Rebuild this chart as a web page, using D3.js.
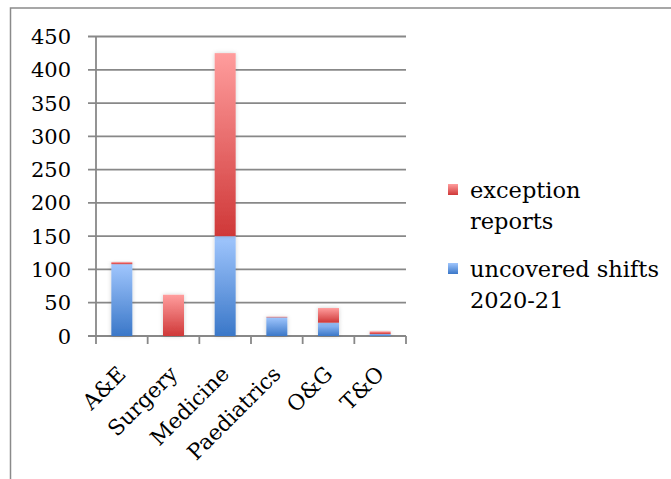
<!DOCTYPE html>
<html>
<head>
<meta charset="utf-8">
<script src="https://cdn.jsdelivr.net/npm/d3@7"></script>
<style>
  html, body { margin: 0; padding: 0; background: #fff; }
  svg { display: block; }
  text { font-family: "DejaVu Serif", serif; fill: #000; }
</style>
</head>
<body>
<svg id="chart" width="671" height="479"></svg>
<script>
// Departments on the x axis
const categories = ["A&E", "Surgery", "Medicine", "Paediatrics", "O&G", "T&O"];
// Stacked series (bottom segment first)
const uncoveredShifts = [108, 0, 150, 28, 20, 3];
const exceptionReports = [3, 62, 275, 1, 22, 4];
const seriesNames = ["uncovered shifts 2020-21", "exception reports"];
const yTicks = [0, 50, 100, 150, 200, 250, 300, 350, 400, 450];

const svg = d3.select("#chart");
const W = 671, H = 479;
const margin = { left: 96, right: 265, top: 36.5, bottom: 143 };
const plotW = W - margin.left - margin.right;
const plotH = H - margin.top - margin.bottom;

// Outer frame (only top and left edges are visible in the window)
svg.append("path")
  .attr("d", `M10.5,${H} L10.5,8 L${W},8`)
  .attr("fill", "none").attr("stroke", "#8a8a8a").attr("stroke-width", 1.5);

const defs = svg.append("defs");
const grads = [
  { id: "gBlue", top: "#a0c6fd", bottom: "#3a77c8" },
  { id: "gRed", top: "#ff9d9d", bottom: "#cf3838" }
];
grads.forEach(g => {
  const lg = defs.append("linearGradient").attr("id", g.id)
    .attr("x1", 0).attr("y1", 0).attr("x2", 0).attr("y2", 1);
  lg.append("stop").attr("offset", "0%").attr("stop-color", g.top);
  lg.append("stop").attr("offset", "100%").attr("stop-color", g.bottom);
});
const shadow = defs.append("filter").attr("id", "soft")
  .attr("x", "-50%").attr("y", "-20%").attr("width", "200%").attr("height", "140%");
shadow.append("feDropShadow").attr("dx", 0).attr("dy", 0)
  .attr("stdDeviation", 2).attr("flood-color", "#000").attr("flood-opacity", 0.18);

const g = svg.append("g").attr("transform", `translate(${margin.left},${margin.top})`);

const xOuter = d3.scaleBand().domain(categories).range([0, plotW]).padding(0);
const y = d3.scaleLinear().domain([0, 450]).range([plotH, 0]);

// Horizontal gridlines with left tick stubs
g.append("g").selectAll("line").data(yTicks).join("line")
  .attr("x1", -8).attr("x2", plotW)
  .attr("y1", d => y(d)).attr("y2", d => y(d))
  .attr("stroke", "#888").attr("stroke-width", d => d === 0 ? 2.2 : 1.8);

// Y axis line
g.append("line").attr("x1", 0).attr("x2", 0).attr("y1", 0).attr("y2", plotH)
  .attr("stroke", "#888").attr("stroke-width", 1.8);

// Y tick labels
g.append("g").selectAll("text").data(yTicks).join("text")
  .attr("x", -25).attr("y", d => y(d)).attr("dy", "0.36em")
  .attr("text-anchor", "end").style("font-size", "21px")
  .text(d => d);

// X tick marks at category boundaries
const bounds = categories.map(c => xOuter(c)).concat([plotW]);
g.append("g").selectAll("line").data(bounds).join("line")
  .attr("x1", d => d).attr("x2", d => d).attr("y1", plotH).attr("y2", plotH + 8)
  .attr("stroke", "#888").attr("stroke-width", 1.8);

// Stacked bars
const rows = categories.map((c, i) => ({ cat: c, uncovered: uncoveredShifts[i], exception: exceptionReports[i] }));
const stack = d3.stack().keys(["uncovered", "exception"])(rows);
const fills = { uncovered: "url(#gBlue)", exception: "url(#gRed)" };
const barW = 21;
g.append("g").selectAll("g").data(stack).join("g")
  .attr("fill", s => fills[s.key])
  .selectAll("rect").data(s => s.filter(d => d[1] - d[0] > 0)).join("rect")
  .attr("x", d => xOuter(d.data.cat) + xOuter.bandwidth() / 2 - barW / 2)
  .attr("width", barW)
  .attr("y", d => y(d[1]))
  .attr("height", d => y(d[0]) - y(d[1]))
  .attr("filter", "url(#soft)");

// Rotated category labels
g.append("g").selectAll("text").data(categories).join("text")
  .attr("transform", c => `translate(${xOuter(c) + xOuter.bandwidth() / 2},${plotH + 34}) rotate(-45)`)
  .attr("text-anchor", "end").attr("dy", "0.35em")
  .style("font-size", "21.5px")
  .text(c => c);

// Legend (exception reports listed first)
const legend = svg.append("g");
const legendItems = [
  { lines: ["exception", "reports"], fill: "url(#gRed)", y: 190 },
  { lines: ["uncovered shifts", "2020-21"], fill: "url(#gBlue)", y: 269 }
];
legendItems.forEach(it => {
  legend.append("rect").attr("x", 448).attr("y", it.y - 6).attr("width", 10).attr("height", 11)
    .attr("fill", it.fill);
  it.lines.forEach((ln, k) => {
    legend.append("text").attr("x", 470).attr("y", it.y + k * 31.5).attr("dy", "0.35em")
      .style("font-size", "22.5px").text(ln);
  });
});
</script>
</body>
</html>
